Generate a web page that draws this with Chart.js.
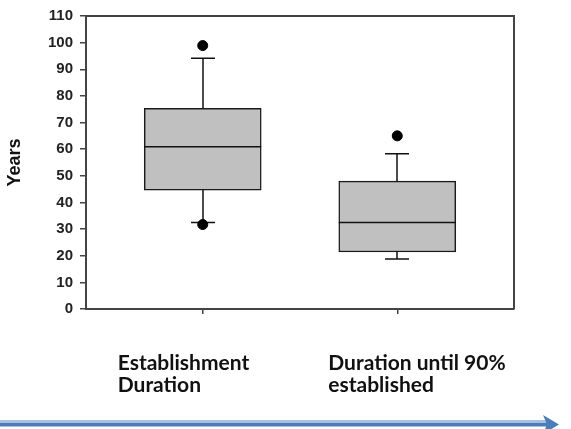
<!DOCTYPE html>
<html>
<head>
<meta charset="utf-8">
<script src="https://cdn.jsdelivr.net/npm/chart.js@4.4.1/dist/chart.umd.min.js"></script>
<style>
  html, body { margin: 0; padding: 0; background: #fff; }
  #wrap { width: 571px; height: 429px; }
</style>
</head>
<body>
<div id="wrap"><canvas id="boxChart"></canvas></div>
<script>
// Box plot values (years)
const categories = [['Establishment', 'Duration'], ['Duration until 90%', 'established']];
const positions = [1, 2];
const whiskerLow = [32.5, 18.8];
const q1 = [44.6, 21.4];
const median = [60.9, 32.5];
const q3 = [75.3, 48.0];
const whiskerHigh = [94.1, 58.3];
const outliers = [[98.9, 31.7], [65.0]];

// label left edge relative to the category tick, in px
const labelShift = [-85, -69];

const boxExtras = {
    id: 'boxExtras',
    beforeDatasetsDraw(chart) {
        const { ctx, chartArea, scales: { x, y } } = chart;
        ctx.save();

        // top + right frame of the plot
        ctx.strokeStyle = '#444';
        ctx.lineWidth = 2;
        ctx.beginPath();
        ctx.moveTo(chartArea.left, chartArea.top);
        ctx.lineTo(chartArea.right, chartArea.top);
        ctx.lineTo(chartArea.right, chartArea.bottom);
        ctx.stroke();

        // whiskers + caps
        ctx.strokeStyle = '#111';
        ctx.lineWidth = 1.5;
        positions.forEach((p, i) => {
            const cx = Math.round(x.getPixelForValue(p));
            const yLo = y.getPixelForValue(whiskerLow[i]);
            const yHi = y.getPixelForValue(whiskerHigh[i]);
            ctx.beginPath();
            ctx.moveTo(cx, yLo);
            ctx.lineTo(cx, yHi);
            ctx.moveTo(cx - 12, yLo);
            ctx.lineTo(cx + 12, yLo);
            ctx.moveTo(cx - 12, yHi);
            ctx.lineTo(cx + 12, yHi);
            ctx.stroke();
        });
        ctx.restore();
    },
    afterDatasetsDraw(chart) {
        const { ctx, scales: { y } } = chart;
        const meta = chart.getDatasetMeta(0);
        ctx.save();
        ctx.strokeStyle = '#111';
        ctx.lineWidth = 1.5;
        meta.data.forEach((bar, i) => {
            const { x: bx, width } = bar.getProps(['x', 'width'], true);
            const ym = y.getPixelForValue(median[i]);
            ctx.beginPath();
            ctx.moveTo(bx - width / 2, ym);
            ctx.lineTo(bx + width / 2, ym);
            ctx.stroke();
        });
        ctx.restore();
    },
    afterDraw(chart) {
        const { ctx, scales: { x } } = chart;
        ctx.save();

        // category labels under the plot
        ctx.fillStyle = '#111';
        ctx.font = 'bold 21px Lato, "Liberation Sans", sans-serif';
        ctx.textAlign = 'left';
        ctx.textBaseline = 'alphabetic';
        categories.forEach((lines, i) => {
            const left = x.getPixelForValue(positions[i]) + labelShift[i];
            lines.forEach((line, j) => {
                ctx.fillText(line, left, 370 + j * 22);
            });
        });

        // blue arrow along the bottom
        ctx.strokeStyle = '#a9c1e0';
        ctx.lineWidth = 2;
        ctx.beginPath();
        ctx.moveTo(0, 421);
        ctx.lineTo(546, 421);
        ctx.stroke();

        ctx.strokeStyle = '#4a7ebb';
        ctx.lineWidth = 4;
        ctx.beginPath();
        ctx.moveTo(0, 424.5);
        ctx.lineTo(548, 424.5);
        ctx.stroke();

        ctx.fillStyle = '#4a7ebb';
        ctx.beginPath();
        ctx.moveTo(559, 424.5);
        ctx.lineTo(543, 415);
        ctx.lineTo(547, 424.5);
        ctx.lineTo(543, 434);
        ctx.closePath();
        ctx.fill();

        ctx.restore();
    },
};

new Chart(document.getElementById('boxChart'), {
    type: 'bar',
    data: {
        datasets: [
            {
                label: 'Box',
                data: positions.map((p, i) => ({ x: p, y: [q1[i], q3[i]] })),
                backgroundColor: '#c0c0c0',
                borderColor: '#1a1a1a',
                borderWidth: 1.5,
                borderSkipped: false,
                barThickness: 117,
            },
            {
                type: 'scatter',
                label: 'Outliers',
                data: outliers.flatMap((vals, i) => vals.map((v) => ({ x: positions[i], y: v }))),
                backgroundColor: '#000',
                borderColor: '#000',
                pointRadius: 5,
                pointHoverRadius: 5,
            },
        ],
    },
    options: {
        responsive: true,
        maintainAspectRatio: false,
        animation: false,
        layout: { padding: { top: 10, right: 57, bottom: 0, left: 0 } },
        plugins: {
            legend: { display: false },
            tooltip: { enabled: false },
        },
        scales: {
            x: {
                type: 'linear',
                min: 0.4,
                max: 2.6,
                offset: false,
                afterBuildTicks: (scale) => {
                    scale.ticks = positions.map((v) => ({ value: v }));
                },
                afterFit: (scale) => {
                    scale.height = 120;
                },
                ticks: { display: false },
                grid: { offset: false, drawOnChartArea: false, tickLength: 5, color: '#444', lineWidth: 1.5 },
                border: { color: '#444', width: 2 },
            },
            y: {
                min: 0,
                max: 110,
                afterFit: (scale) => {
                    scale.width = 86;
                },
                ticks: {
                    stepSize: 10,
                    padding: 7,
                    color: '#222',
                    font: { family: '"Liberation Sans", Arial, sans-serif', size: 15, weight: 'bold' },
                },
                grid: { drawOnChartArea: false, tickLength: 6, color: '#444', lineWidth: 1.5 },
                border: { color: '#444', width: 2 },
                title: {
                    display: true,
                    text: 'Years',
                    color: '#111',
                    padding: { top: 4, bottom: 0 },
                    font: { family: '"Liberation Sans", Arial, sans-serif', size: 18, weight: 'bold' },
                },
            },
        },
    },
    plugins: [boxExtras],
});
</script>
</body>
</html>
